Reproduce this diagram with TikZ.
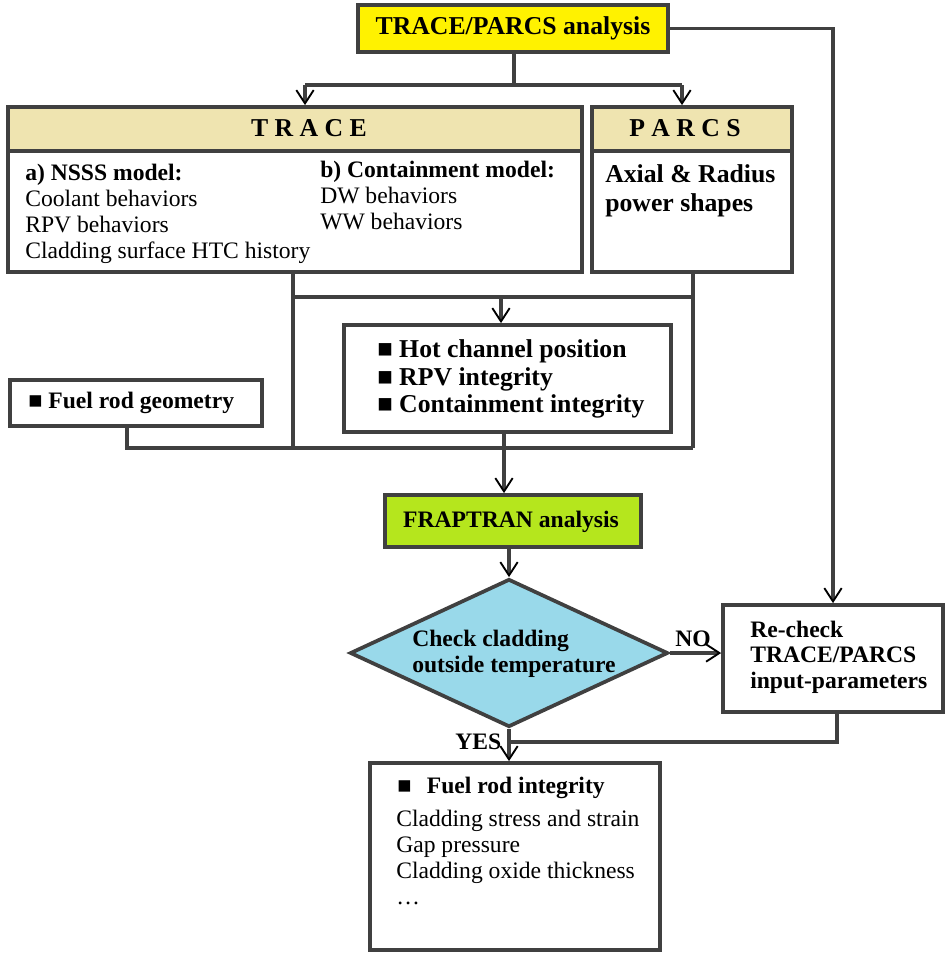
\documentclass[tikz,border=0pt]{standalone}
\usepackage{fontspec}
\setmainfont{Liberation Serif}
\usetikzlibrary{arrows.meta,fit,shapes.geometric}
\definecolor{bc}{HTML}{404040}
\definecolor{ylw}{HTML}{FFF200}
\definecolor{hdrtan}{HTML}{EFE4B0}
\definecolor{limeg}{HTML}{B5E61D}
\definecolor{skyb}{HTML}{99D9EA}
\begin{document}
\begin{tikzpicture}[x=0.75pt,y=-0.75pt,
  box/.style={draw=bc, line width=2.8pt, inner sep=0pt},
  conn/.style={draw=bc, line width=2.6pt},
  arr/.style={conn, -{Straight Barb[length=10pt,width=13pt,line width=1.4pt,color=black]}},
  txt/.style={inner sep=0pt, anchor=base west, font=\fontsize{17.7}{20}\selectfont},
  btxt/.style={txt, font=\fontsize{17.7}{20}\selectfont\bfseries},
  bigtxt/.style={txt, font=\fontsize{19.3}{22}\selectfont\bfseries}]
\useasboundingbox (0,0) rectangle (945,953);
% boxes
\node[box, fill=ylw, fit={(358,5) (668,52)}] (top) {};
\node[box, fill=hdrtan, fit={(8,107) (582,151)}] (traceh) {};
\node[box, fit={(8,107) (582,272)}] (trace) {};
\node[box, fill=hdrtan, fit={(592,107) (792,151)}] (parcsh) {};
\node[box, fit={(592,107) (792,272)}] (parcs) {};
\node[box, fit={(344,325) (671,432)}] (hot) {};
\node[box, fit={(10,380) (262,426)}] (fuel) {};
\node[box, fill=limeg, fit={(385,495) (641,547)}] (frap) {};
\node[box, fill=skyb, diamond, minimum width=238.5pt, minimum height=111pt] (dia) at (509,653) {};
\node[box, fit={(723,605) (943,712)}] (recheck) {};
\node[box, fit={(370,763) (660,950)}] (integ) {};
% connectors
\coordinate (j1) at (514,85);
\coordinate (j1l) at (305,85);
\coordinate (j1r) at (682,85);
\draw[conn] (top.south -| j1) -- (j1);
\draw[conn] (j1l) -- (j1r);
\draw[arr] (j1l) -- (j1l |- traceh.north);
\draw[arr] (j1r) -- (j1r |- parcsh.north);
\draw[arr] (top.east) -| (recheck.north);
\coordinate (tl) at (293,297);
\coordinate (tr) at (693,297);
\coordinate (bl) at (293,448);
\coordinate (br) at (693,448);
\coordinate (fl) at (127,448);
\draw[conn] (trace.south -| tl) -- (bl);
\draw[conn] (parcs.south -| tr) -- (br);
\draw[conn] (tl) -- (tr);
\coordinate (hin) at (501,297);
\draw[arr] (hin) -- (hin |- hot.north);
\draw[conn] (fuel.south -| fl) -- (fl) -- (br);
\coordinate (hout) at (504,448);
\draw[conn] (hot.south -| hout) -- (hout);
\draw[arr] (hout) -- (hout |- frap.north);
\draw[arr] (frap.south -| dia.north) -- (dia.north);
\draw[arr] (dia.east) -- (dia.east -| recheck.west);
\coordinate (yj) at (509,742);
\coordinate (rb) at (837,742);
\draw[conn] (dia.south) -- (yj);
\draw[conn] (recheck.south -| rb) -- (rb) -- (yj);
\draw[arr] (yj) -- (yj |- integ.north);
% texts
\node[bigtxt, anchor=base] (ttop) at (513,34) {TRACE/PARCS analysis};
\node[bigtxt, anchor=base] (ttrace) at (309,136) {T R A C E};
\node[bigtxt, anchor=base] (tparcs) at (685,136) {P A R C S};
\node[btxt] (ta1) at (25,180) {a) NSSS model:};
\node[txt] (ta2) at (25,206) {Coolant behaviors};
\node[txt] (ta3) at (25,232) {RPV behaviors};
\node[txt] (ta4) at (25,258) {Cladding surface HTC history};
\node[btxt] (tb1) at (320,177) {b) Containment model:};
\node[txt] (tb2) at (320,203) {DW behaviors};
\node[txt] (tb3) at (320,229) {WW behaviors};
\node[bigtxt] (tp1) at (605,182) {Axial \& Radius};
\node[bigtxt] (tp2) at (605,211) {power shapes};
\node[bigtxt] (th1) at (377,357) {■ Hot channel position};
\node[bigtxt] (th2) at (377,385) {■ RPV integrity};
\node[bigtxt] (th3) at (377,412) {■ Containment integrity};
\node[btxt] (tf) at (28,408) {■ Fuel rod geometry};
\node[btxt, anchor=base] (tfr) at (511,527) {FRAPTRAN analysis};
\node[btxt] (td1) at (412,646) {Check cladding};
\node[btxt] (td2) at (412,672) {outside temperature};
\node[btxt] (tno) at (675,646) {NO};
\node[btxt] (tyes) at (455,749) {YES};
\node[btxt] (tr1) at (750,637) {Re-check};
\node[btxt] (tr2) at (750,662) {TRACE/PARCS};
\node[btxt] (tr3) at (750,688) {input-parameters};
\node[btxt] (ti1) at (397,793) {■\hspace{0.65em}Fuel rod integrity};
\node[txt] (ti2) at (396,826) {Cladding stress and strain};
\node[txt] (ti3) at (396,852) {Gap pressure};
\node[txt] (ti4) at (396,878) {Cladding oxide thickness};
\node[txt] (ti5) at (396,904) {…};
\end{tikzpicture}
\end{document}
